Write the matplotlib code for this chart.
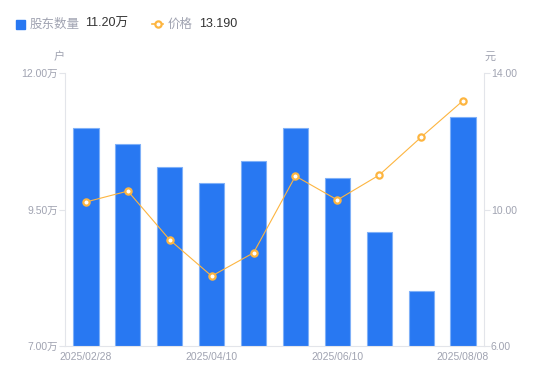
import matplotlib
matplotlib.use("Agg")
import matplotlib.pyplot as plt
from matplotlib.lines import Line2D

plt.rcParams['font.family'] = ['Liberation Sans', 'Noto Sans CJK SC', 'DejaVu Sans']
CJK = ['Noto Sans CJK SC', 'DejaVu Sans']

dates = ["2025/02/28", "2025/03/10", "2025/03/20", "2025/04/10", "2025/04/20",
         "2025/05/10", "2025/06/10", "2025/06/30", "2025/07/20", "2025/08/08"]
holders = [10.99, 10.70, 10.28, 9.99, 10.39, 10.99, 10.08, 9.09, 8.01, 11.20]  # 万户
price = [10.22, 10.54, 9.11, 8.05, 8.73, 10.98, 10.28, 11.01, 12.12, 13.19]
left_ticks = [7.00, 9.50, 12.00]
right_ticks = [6.00, 10.00, 14.00]
shown_labels = [0, 3, 6, 9]

BLUE = '#2878F2'
EDGE = '#7FB0F8'
ORANGE = '#FDB540'
GRAY = '#A0A3B1'
AXC = '#E3E5EA'
DARK = '#333333'

fig = plt.figure(figsize=(5.5, 3.81), dpi=100)
ax = fig.add_axes([65/550, 1-346/381, (484-65)/550, (346-73)/381])
ax2 = ax.twinx()

x = list(range(len(dates)))
ax.bar(x, holders, width=0.6, color=BLUE, edgecolor=EDGE, linewidth=0.8, zorder=2)
ax.set_ylim(7.0, 12.0)
ax.set_xlim(-0.5, len(dates) - 0.5)
ax.set_yticks(left_ticks)
ax.set_yticklabels([f"{v:.2f}万" for v in left_ticks])
ax.set_xticks([x[i] for i in shown_labels])
ax.set_xticklabels([dates[i] for i in shown_labels])

ax2.plot(x, price, color=ORANGE, linewidth=0.8, marker='o', markersize=4.5,
         markerfacecolor='white', markeredgecolor=ORANGE, markeredgewidth=1.6, zorder=3)
ax2.set_ylim(6.0, 14.0)
ax2.set_yticks(right_ticks)
ax2.set_yticklabels([f"{v:.2f}" for v in right_ticks])

for a in (ax, ax2):
    for s in a.spines.values():
        s.set_visible(False)
ax.spines['left'].set_visible(True)
ax.spines['left'].set_color(AXC)
ax.spines['bottom'].set_visible(True)
ax.spines['bottom'].set_color(AXC)
ax2.spines['right'].set_visible(True)
ax2.spines['right'].set_color(AXC)

ax.tick_params(axis='y', colors=AXC, labelcolor=GRAY, labelsize=7.5, length=4, width=0.8, pad=1)
ax.tick_params(axis='x', length=0, labelcolor=GRAY, labelsize=7.5, pad=4)
ax2.tick_params(axis='y', colors=AXC, labelcolor=GRAY, labelsize=7.5, length=4, width=0.8, pad=1)

fig.text(59/550, 1-57/381, '户', color=GRAY, fontsize=8, ha='center', va='center', family=CJK)
fig.text(490/550, 1-57/381, '元', color=GRAY, fontsize=8, ha='center', va='center', family=CJK)

# legend
fig.patches.append(plt.Rectangle((16/550, 1-29/381), 9/550, 9/381, transform=fig.transFigure,
                                 color=BLUE, figure=fig))
fig.text(30/550, 1-24/381, '股东数量', color=GRAY, fontsize=9, va='center', family=CJK)
fig.text(85/550, 1-24/381, f"{holders[-1]:.2f}万", color=DARK, fontsize=9, va='center')
fig.lines.append(Line2D([152/550, 163/550], [1-24/381, 1-24/381], transform=fig.transFigure,
                        color=ORANGE, linewidth=1.2))
fig.lines.append(Line2D([157.5/550], [1-24/381], transform=fig.transFigure, color=ORANGE,
                        marker='o', markersize=4.5, markerfacecolor='white',
                        markeredgecolor=ORANGE, markeredgewidth=1.6, linestyle='none'))
fig.text(168/550, 1-24/381, '价格', color=GRAY, fontsize=9, va='center', family=CJK)
fig.text(199/550, 1-24/381, f"{price[-1]:.3f}", color=DARK, fontsize=9, va='center')

fig.savefig('out.png', dpi=100)
